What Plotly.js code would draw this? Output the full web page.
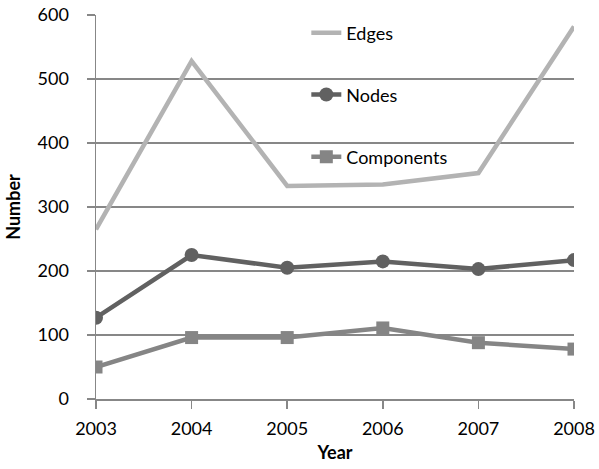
<!DOCTYPE html>
<html>
<head>
<meta charset="utf-8">
<script src="https://cdn.plot.ly/plotly-3.0.1.min.js"></script>
<style>html,body{margin:0;padding:0;background:#fff;}#chart{width:599px;height:469px;}</style>
</head>
<body>
<div id="chart"></div>
<script>
const years = [2003, 2004, 2005, 2006, 2007, 2008];
const edges = [265, 528, 333, 335, 353, 582];
const nodes = [127, 225, 205, 215, 203, 217];
const components = [50, 96, 96, 111, 88, 78];
const yTicks = [0, 100, 200, 300, 400, 500, 600];

const FONT = 'Lato, "Open Sans", sans-serif';
const GRID = '#878787';

const traces = [
  {x: years, y: edges, name: 'Edges', mode: 'lines', legend: 'legend',
   line: {color: '#b3b3b3', width: 4.5}},
  {x: years, y: nodes, name: 'Nodes', mode: 'lines+markers', legend: 'legend2',
   line: {color: '#616161', width: 4.5},
   marker: {symbol: 'circle', size: 14, color: '#616161'}},
  {x: years, y: components, name: 'Components', mode: 'lines+markers', legend: 'legend3',
   line: {color: '#858585', width: 4.5},
   marker: {symbol: 'square', size: 13, color: '#858585'}}
];

const legendBase = {x: 0.44, xanchor: 'left', yanchor: 'middle', bgcolor: 'rgba(0,0,0,0)',
  font: {family: FONT, size: 18, color: '#000'}, borderwidth: 0};

const layout = {
  width: 599, height: 469,
  margin: {l: 96, r: 25, t: 15, b: 70},
  paper_bgcolor: '#fff', plot_bgcolor: '#fff',
  font: {family: FONT, size: 18, color: '#000'},
  xaxis: {
    type: 'linear', range: [2003, 2008], tickvals: years, ticktext: years.map(String),
    showgrid: false, zeroline: false, showline: true, linecolor: GRID, linewidth: 1.5,
    ticks: 'outside', ticklen: 8, tickwidth: 1.5, tickcolor: GRID,
    ticklabelstandoff: 5,
    title: {text: '<b>Year</b>', font: {family: FONT, size: 18}, standoff: 8}
  },
  yaxis: {
    range: [0, 600], tickvals: yTicks,
    showgrid: true, gridcolor: GRID, gridwidth: 1.5,
    zeroline: false, showline: true, linecolor: GRID, linewidth: 1.5,
    ticks: 'outside', ticklen: 8, tickwidth: 1.5, tickcolor: GRID,
    ticklabelstandoff: 14,
    title: {text: '<b>Number</b>', font: {family: FONT, size: 18}, standoff: 12}
  },
  showlegend: true,
  legend: Object.assign({}, legendBase, {y: 0.953}),
  legend2: Object.assign({}, legendBase, {y: 0.792}),
  legend3: Object.assign({}, legendBase, {y: 0.630})
};

Plotly.newPlot('chart', traces, layout, {displayModeBar: false, staticPlot: true});
</script>
</body>
</html>
